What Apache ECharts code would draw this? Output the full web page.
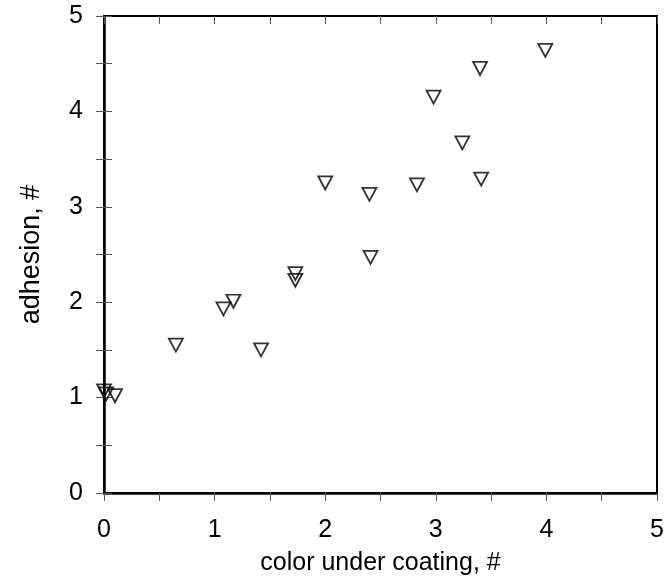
<!DOCTYPE html>
<html><head><meta charset="utf-8">
<script src="https://cdn.jsdelivr.net/npm/echarts@6/dist/echarts.min.js"></script>
<style>html,body{margin:0;padding:0;background:#fff}#c{width:668px;height:588px}</style>
</head><body><div id="c"></div>
<script>
const colorUnderCoating = [0.0, 0.02, 0.1, 0.65, 1.08, 1.17, 1.42, 1.73, 1.73, 2.0, 2.4, 2.41, 2.83, 2.98, 3.24, 3.4, 3.41, 3.99];
const adhesion          = [1.07, 1.04, 1.02, 1.55, 1.93, 2.01, 1.5, 2.3, 2.23, 3.25, 3.13, 2.47, 3.23, 4.15, 3.67, 4.45, 3.29, 4.64];
const xTickLabels = ['0','1','2','3','4','5'];
const yTickLabels = ['0','1','2','3','4','5'];
const points = colorUnderCoating.map((x,i)=>[x, adhesion[i]]);
const font = 'Liberation Sans, Arial, sans-serif';
const lbl = (labels)=> (v)=> { const s = String(v); return labels.includes(s) ? s : ''; };
const chart = echarts.init(document.getElementById('c'));
const axBase = (labels, outside, main) => ({
  type:'value', min:0, max:5, interval:0.5,
  axisLine:{show:main, onZero:false, lineStyle:{color:'#000', width:2.5}},
  axisTick:{show:true, inside:!outside, length:8, lineStyle:{color:'#555', width:1}},
  axisLabel:{show:main, formatter: lbl(labels), color:'#000', fontSize:25, fontFamily:font},
  splitLine:{show:false}
});
chart.setOption({
  animation:false,
  grid:{left:104, right:11, top:16, bottom:95, show:true, borderColor:'#000', borderWidth:2, backgroundColor:'transparent'},
  xAxis:[
    Object.assign(axBase(xTickLabels, true, true), {name:'color under coating, #', nameLocation:'middle', nameGap:58,
      nameTextStyle:{color:'#000', fontSize:25, fontFamily:font}, axisLabel:{formatter:lbl(xTickLabels), color:'#000', fontSize:25, fontFamily:font, margin:25}}),
    axBase(xTickLabels, false, false)
  ],
  yAxis:[
    Object.assign(axBase(yTickLabels, true, true), {name:'adhesion, #', nameLocation:'middle', nameGap:59,
      nameTextStyle:{color:'#000', fontSize:27, fontFamily:font}, axisLabel:{formatter:lbl(yTickLabels), color:'#000', fontSize:25, fontFamily:font, margin:21}}),
    Object.assign(axBase(yTickLabels, false, false), {position:'left'})
  ],
  series:[{
    type:'scatter', data:points,
    symbol:'path://M0,0 L14,0 L7,13 Z', symbolSize:[14,13],
    itemStyle:{color:'rgba(255,255,255,0)', borderColor:'#000', borderWidth:1.8}
  }]
});
</script></body></html>
